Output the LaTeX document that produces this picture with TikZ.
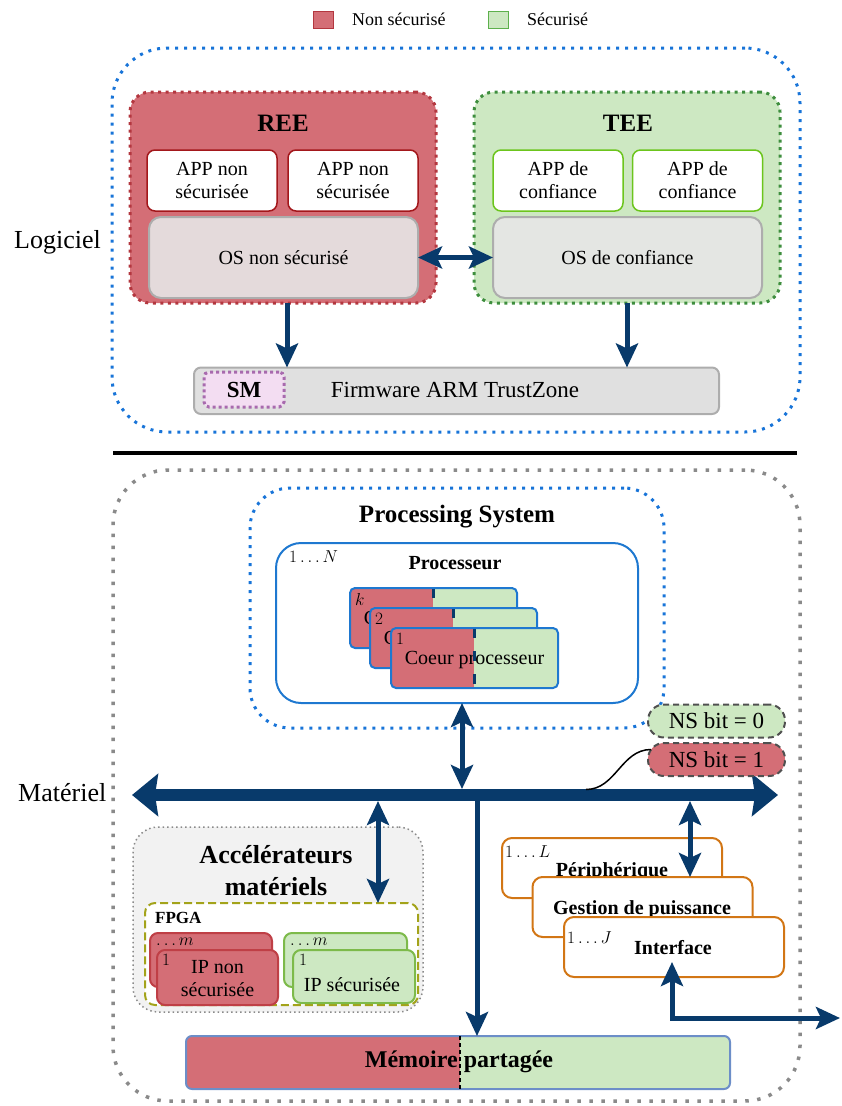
\documentclass[tikz,border=0pt]{standalone}
\usepackage{fontspec}
\setmainfont{Liberation Serif}
\usetikzlibrary{arrows.meta,calc}

\definecolor{nsred}{HTML}{D46E76}
\definecolor{nsredline}{HTML}{B3373F}
\definecolor{sgreen}{HTML}{CDE8C2}
\definecolor{sgreenline}{HTML}{5DB04C}
\definecolor{teeline}{HTML}{3E8E3E}
\definecolor{appred}{HTML}{A3171B}
\definecolor{appgreen}{HTML}{6CC51D}
\definecolor{osredfill}{HTML}{E4DADB}
\definecolor{osgreenfill}{HTML}{E4E6E3}
\definecolor{osline}{HTML}{ADADAD}
\definecolor{fwfill}{HTML}{E0E0E0}
\definecolor{smfill}{HTML}{F3DDF2}
\definecolor{smline}{HTML}{A86AAE}
\definecolor{navy}{HTML}{083A6B}
\definecolor{dotblue}{HTML}{1874D8}
\definecolor{procblue}{HTML}{1E78D0}
\definecolor{dotgrey}{HTML}{8A8A8A}
\definecolor{accfill}{HTML}{F2F2F2}
\definecolor{fpgaline}{HTML}{A3A31A}
\definecolor{ipredline}{HTML}{BF3F46}
\definecolor{ipgreenline}{HTML}{7DBA4A}
\definecolor{periline}{HTML}{D27615}
\definecolor{memline}{HTML}{6C8EC8}
\definecolor{nsline}{HTML}{505050}

\newcommand{\fsz}[2]{\fontsize{#1pt}{#2pt}\selectfont}

\tikzset{
  plainbox/.style={inner sep=0pt, outer sep=0pt},
  navytip/.tip={Stealth[length=24pt,width=22pt,inset=5pt]},
  bustip/.tip={Stealth[length=26pt,width=42pt,inset=3pt]},
  thickarrow/.style={draw=navy, line width=5pt},
  sgl/.style={thickarrow, -navytip},
  dbl/.style={thickarrow, navytip-navytip},
  bluedots/.style={draw=dotblue, line width=3pt, dash pattern=on 3pt off 6pt},
  appn/.style={plainbox, fill=white, draw=appred, line width=1.5pt, rounded corners=8pt,
    minimum width=130pt, minimum height=61pt, align=center, font=\fsz{20}{23}},
  appc/.style={appn, draw=appgreen},
  osbox/.style={plainbox, draw=osline, line width=2pt, rounded corners=12pt,
    minimum width=269pt, minimum height=81pt, font=\fsz{20}{23}},
  iprbox/.style={plainbox, fill=nsred, draw=ipredline, line width=2pt, rounded corners=8pt},
  ipgbox/.style={plainbox, fill=sgreen, draw=ipgreenline, line width=2pt, rounded corners=8pt},
  peribox/.style={plainbox, fill=white, draw=periline, line width=2pt, rounded corners=10pt,
    minimum width=220pt, minimum height=60pt},
  nsbox/.style={plainbox, draw=nsline, line width=2pt, dash pattern=on 6pt off 4pt,
    rounded corners=16pt, minimum width=137pt, minimum height=33pt, font=\fsz{23}{26}},
  lbl/.style={anchor=west, inner sep=0pt, font=\fsz{17}{20}},
  txt20/.style={font=\fsz{20}{23}},
  bold20/.style={font=\bfseries\fsz{20}{23}}
}

% one processor core: #1 name, #2 x, #3 y (top-left), #4 index
\newcommand{\coeurbox}[4]{%
  \begin{scope}
    \clip[rounded corners=5pt] (#2,#3) rectangle ++(167,60);
    \fill[nsred] (#2,#3) rectangle ++(83,60);
    \fill[sgreen] ($(#2,#3)+(83,0)$) rectangle ++(84,60);
  \end{scope}
  \node[txt20] (#1t) at ($(#2,#3)+(83.5,32)$) {Coeur processeur};
  \draw[navy, line width=3pt, dash pattern=on 10pt off 13pt] ($(#2,#3)+(83,0)$) -- ++(0,60);
  \node[plainbox, draw=procblue, line width=2pt, rounded corners=5pt,
        minimum width=167pt, minimum height=60pt, anchor=north west] (#1) at (#2,#3) {};
  \node[lbl, font=\fsz{16}{18}] (#1l) at ($(#2,#3)+(5,11)$) {$#4$};
}

\begin{document}
\begin{tikzpicture}[x=1pt,y=-1pt]
\useasboundingbox (0,0) rectangle (841,1106);

% ---------- legend ----------
\node[plainbox, fill=nsred, draw=nsredline, line width=1pt, minimum width=20pt, minimum height=17pt] (legr) at (323,19.5) {};
\node[anchor=west, inner sep=0pt, font=\fsz{18}{21}] (legrt) at (352,19.5) {Non sécurisé};
\node[plainbox, fill=sgreen, draw=sgreenline, line width=1pt, minimum width=20pt, minimum height=17pt] (legg) at (498,19.5) {};
\node[anchor=west, inner sep=0pt, font=\fsz{18}{21}] (leggt) at (527,19.5) {Sécurisé};

% ---------- software ----------
\node[plainbox, bluedots, rounded corners=55pt, minimum width=688pt, minimum height=384pt] (logi) at (456,240) {};
\node[anchor=west, inner sep=0pt, font=\fsz{26}{30}] (logit) at (14,242) {Logiciel};

\node[plainbox, fill=nsred, draw=nsredline, line width=3pt, dash pattern=on 3pt off 4.5pt,
      rounded corners=20pt, minimum width=306pt, minimum height=211pt] (ree) at (283,197.5) {};
\node[font=\bfseries\fsz{25}{28}] (reet) at (283,123) {REE};
\node[appn] (app1) at (212,180.5) {APP non\\sécurisée};
\node[appn] (app2) at (353,180.5) {APP non\\sécurisée};
\node[osbox, fill=osredfill] (osn) at (283.5,257.5) {OS non sécurisé};

\node[plainbox, fill=sgreen, draw=teeline, line width=3pt, dash pattern=on 3pt off 4.5pt,
      rounded corners=20pt, minimum width=306pt, minimum height=211pt] (tee) at (627,197.5) {};
\node[font=\bfseries\fsz{25}{28}] (teet) at (628,123) {TEE};
\node[appc] (app3) at (558,180.5) {APP de\\confiance};
\node[appc] (app4) at (697.5,180.5) {APP de\\confiance};
\node[osbox, fill=osgreenfill] (osc) at (627.5,257.5) {OS de confiance};

\node[plainbox, fill=fwfill, draw=osline, line width=2pt, rounded corners=7pt,
      minimum width=525pt, minimum height=46.5pt] (fw) at (456.5,390.75) {};
\node[font=\fsz{23}{26}] (fwt) at (455,390) {Firmware ARM TrustZone};
\node[plainbox, fill=smfill, draw=smline, line width=3pt, dash pattern=on 3pt off 3pt,
      rounded corners=5pt, minimum width=80pt, minimum height=35pt, font=\bfseries\fsz{23}{26}] (sm) at (244,389.5) {SM};

\draw[dbl] (osn.east) -- (osc.west);
\draw[sgl] ([xshift=4pt]ree.south) -- ([xshift=4pt]ree.south |- fw.north);
\draw[sgl] (tee.south) -- (tee.south |- fw.north);

% ---------- separator ----------
\coordinate (sepL) at (113,453);
\coordinate (sepR) at (797,453);
\draw[line width=4pt] (sepL) -- (sepR);

% ---------- hardware ----------
\node[plainbox, draw=dotgrey, line width=3.5pt, dash pattern=on 3.5pt off 8.5pt,
      rounded corners=55pt, minimum width=687pt, minimum height=631pt] (hw) at (456.5,785.5) {};
\node[anchor=west, inner sep=0pt, font=\fsz{26}{30}] (hwt) at (18,793) {Matériel};

% processing system
\node[plainbox, bluedots, rounded corners=40pt, minimum width=414pt, minimum height=240pt] (ps) at (457,608) {};
\node[font=\bfseries\fsz{25}{28}] (pst) at (457,517) {Processing System};
\node[plainbox, fill=white, draw=procblue, line width=2pt, rounded corners=25pt,
      minimum width=362pt, minimum height=160pt] (proc) at (457,623) {};
\node[bold20] (proct) at (455,563) {Processeur};
\node[lbl] (procn) at (289,557) {$1\ldots N$};

\coeurbox{ck}{350}{588}{k}
\coeurbox{cb}{370}{608}{2}
\coeurbox{ca}{391}{628}{1}

% bus
\coordinate (busL) at (132,795);
\coordinate (busR) at (778,795);
\draw[draw=navy, line width=12pt, bustip-bustip] (busL) -- (busR);

% NS bit
\node[nsbox, fill=sgreen] (ns0) at (716.5,721) {NS bit = 0};
\node[nsbox, fill=nsred] (ns1) at (716.5,759.5) {NS bit = 1};
\coordinate (nsc) at (586,789.5);
\draw[line width=1.5pt] (nsc) to[out=0,in=180] ([xshift=3pt,yshift=10pt]ns1.west);

% hardware accelerators
\node[plainbox, fill=accfill, draw=dotgrey, line width=1.5pt, dash pattern=on 1.5pt off 3pt,
      rounded corners=25pt, minimum width=290pt, minimum height=185pt] (acc) at (278,919.5) {};
\node[font=\bfseries\fsz{26}{32}, align=center] (acct) at (276,871) {Accélérateurs\\matériels};
\node[plainbox, fill=white, draw=fpgaline, line width=2pt, dash pattern=on 8pt off 4pt,
      rounded corners=10pt, minimum width=273pt, minimum height=102pt] (fpga) at (281.5,954) {};
\node[anchor=west, inner sep=0pt, font=\bfseries\fsz{17}{20}] (fpgat) at (155,918) {FPGA};

\node[iprbox, minimum width=122pt, minimum height=54pt] (iprb) at (211,960) {};
\node[lbl] (iprbl) at (156,942) {$\ldots m$};
\node[iprbox, minimum width=121pt, minimum height=55pt] (iprf) at (217.5,977.5) {};
\node[lbl] (iprfl) at (162,960) {$1$};
\node[txt20, align=center] (iprt) at (217.5,979) {IP non\\sécurisée};

\node[ipgbox, minimum width=123pt, minimum height=54pt] (ipgb) at (345.5,960) {};
\node[lbl] (ipgbl) at (290,942) {$\ldots m$};
\node[ipgbox, minimum width=122pt, minimum height=53pt] (ipgf) at (354,976.5) {};
\node[lbl] (ipgfl) at (299,960) {$1$};
\node[txt20] (ipgt) at (352,985) {IP sécurisée};

% peripherals
\node[peribox] (perif) at (612,868) {};
\node[lbl] (perifl) at (505,852) {$1\ldots L$};
\node[bold20] (periftx) at (612,872) {Périphérique};
\node[peribox] (gest) at (642.5,907) {};
\node[bold20] (gesttx) at (642,910) {Gestion de puissance};
\node[peribox] (intf) at (674,947) {};
\node[lbl] (intfl) at (567,938) {$1\ldots J$};
\node[bold20] (intftx) at (673,948) {Interface};

% shared memory
\begin{scope}
  \clip[rounded corners=6pt] (186,1036) rectangle (730,1089);
  \fill[nsred] (186,1036) rectangle (460,1089);
  \fill[sgreen] (460,1036) rectangle (730,1089);
\end{scope}
\node[plainbox, draw=memline, line width=2pt, rounded corners=6pt,
      minimum width=544pt, minimum height=53pt] (mem) at (458,1062.5) {};
\coordinate (memdA) at (460,1036);
\coordinate (memdB) at (460,1089);
\draw[line width=1.5pt, dash pattern=on 4pt off 3pt] (memdA) -- (memdB);
\node[font=\bfseries\fsz{24}{28}] (memt) at (459,1062) {Mémoire partagée};

% bus connections
\coordinate (bps) at (462,789);
\coordinate (bmem) at (477,795);
\coordinate (bacc) at (378,801);
\coordinate (bper) at (690,801);
\coordinate (ext) at (840,1018);
\draw[dbl] (bps) -- (bps |- proc.south);
\draw[sgl] (bmem) -- (bmem |- mem.north);
\draw[dbl] (bacc) -- (bacc |- fpga.north);
\draw[dbl] (bper) -- (bper |- gest.north);
\draw[dbl] (ext) -| ([xshift=-2pt,yshift=15pt]intf.south);

\end{tikzpicture}
\end{document}
